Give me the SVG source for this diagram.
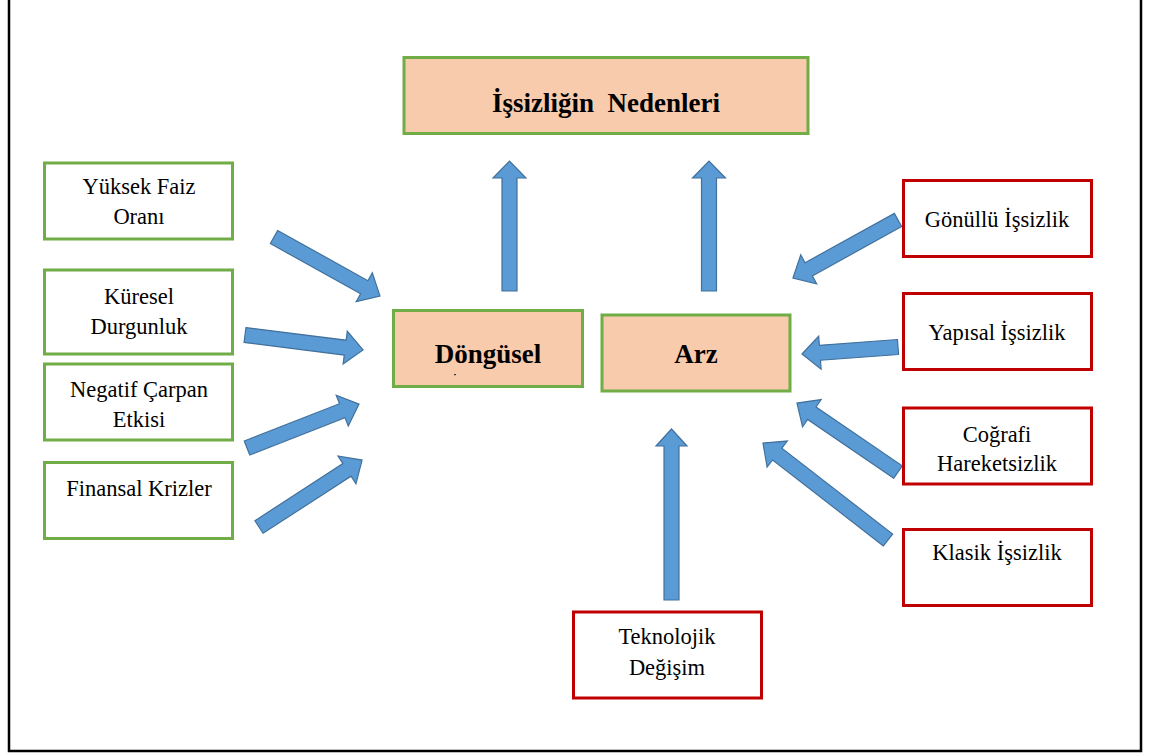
<svg xmlns="http://www.w3.org/2000/svg" width="1149" height="755" viewBox="0 0 1149 755">
<style>
.bg{fill:#ffffff}
.g{fill:#ffffff;stroke:#70AD47;stroke-width:3}
.gf{fill:#F8CBAD;stroke:#70AD47;stroke-width:3}
.r{fill:#ffffff;stroke:#C00000;stroke-width:3}
.t{font-size:22.5px;fill:#000;text-anchor:middle}
.b{font-size:27px;font-weight:bold;fill:#000;text-anchor:middle;white-space:pre}
.arr{fill:#5B9BD5;stroke:#41719C;stroke-width:1.2;stroke-linejoin:miter}
.frame{fill:none;stroke:#000;stroke-width:2.5}
</style>
<rect class="bg" x="0" y="0" width="1149" height="755"/>
<path class="frame" d="M9,0 L9,751 L1141,751 L1141,0"/>

<g id="connectors">
<path class="arr" transform="translate(274,237) rotate(29.1)" d="M0,-7.5 L103.3,-7.5 L103.3,-16.5 L121.3,0 L103.3,16.5 L103.3,7.5 L0,7.5 Z"/>
<path class="arr" transform="translate(245,335) rotate(7.2)" d="M0,-7.5 L101,-7.5 L101,-16.5 L119,0 L101,16.5 L101,7.5 L0,7.5 Z"/>
<path class="arr" transform="translate(247,448) rotate(-21.4)" d="M0,-7.5 L102.3,-7.5 L102.3,-16.5 L120.3,0 L102.3,16.5 L102.3,7.5 L0,7.5 Z"/>
<path class="arr" transform="translate(259,527) rotate(-33)" d="M0,-7.5 L104.9,-7.5 L104.9,-16.5 L122.9,0 L104.9,16.5 L104.9,7.5 L0,7.5 Z"/>
<path class="arr" transform="translate(898,220) rotate(151.1)" d="M0,-7.5 L102,-7.5 L102,-16.5 L120,0 L102,16.5 L102,7.5 L0,7.5 Z"/>
<path class="arr" transform="translate(898,347) rotate(175.8)" d="M0,-7.5 L78.3,-7.5 L78.3,-16.5 L96.3,0 L78.3,16.5 L78.3,7.5 L0,7.5 Z"/>
<path class="arr" transform="translate(898,472) rotate(-145.7)" d="M0,-7.5 L104.3,-7.5 L104.3,-16.5 L122.3,0 L104.3,16.5 L104.3,7.5 L0,7.5 Z"/>
<path class="arr" transform="translate(888,540) rotate(-142.2)" d="M0,-7.5 L140.2,-7.5 L140.2,-16.5 L158.2,0 L140.2,16.5 L140.2,7.5 L0,7.5 Z"/>
<path class="arr" transform="translate(509.5,291) rotate(-90)" d="M0,-7.5 L113,-7.5 L113,-16.5 L130,0 L113,16.5 L113,7.5 L0,7.5 Z"/>
<path class="arr" transform="translate(709,291) rotate(-90)" d="M0,-7.5 L113,-7.5 L113,-16.5 L130,0 L113,16.5 L113,7.5 L0,7.5 Z"/>
<path class="arr" transform="translate(671.5,600) rotate(-90)" d="M0,-7.5 L154,-7.5 L154,-15.5 L171,0 L154,15.5 L154,7.5 L0,7.5 Z"/>
</g>

<g font-family="Liberation Serif, Times New Roman, DejaVu Serif, serif">
<g id="title">
<rect class="gf" x="404" y="57.5" width="404" height="76"/>
<text class="b" x="606" y="112">İşsizliğin  Nedenleri</text>
</g>

<g id="dongusel">
<rect class="gf" x="393.5" y="310.5" width="189" height="76"/>
<text class="b" x="488" y="363">Döngüsel</text>
<rect x="454" y="374" width="2" height="1.2" fill="#333"/>
</g>

<g id="arz">
<rect class="gf" x="602" y="315" width="188" height="76"/>
<text class="b" x="696" y="363">Arz</text>
</g>

<g id="yuksek-faiz">
<rect class="g" x="44.5" y="163" width="188" height="76"/>
<text class="t" x="139" y="194">Yüksek Faiz</text>
<text class="t" x="139" y="224">Oranı</text>
</g>

<g id="kuresel-durgunluk">
<rect class="g" x="44.5" y="270" width="188" height="84"/>
<text class="t" x="139" y="304">Küresel</text>
<text class="t" x="139" y="334">Durgunluk</text>
</g>

<g id="negatif-carpan">
<rect class="g" x="44.5" y="364" width="188" height="76"/>
<text class="t" x="139" y="397">Negatif Çarpan</text>
<text class="t" x="139" y="427">Etkisi</text>
</g>

<g id="finansal-krizler">
<rect class="g" x="44.5" y="462.5" width="188" height="76"/>
<text class="t" x="139" y="496">Finansal Krizler</text>
</g>

<g id="gonullu">
<rect class="r" x="903.5" y="180.5" width="188" height="76"/>
<text class="t" x="997" y="227">Gönüllü İşsizlik</text>
</g>

<g id="yapisal">
<rect class="r" x="903.5" y="293.5" width="188" height="76"/>
<text class="t" x="997" y="340">Yapısal İşsizlik</text>
</g>

<g id="cografi">
<rect class="r" x="903.5" y="408" width="188" height="76"/>
<text class="t" x="997" y="442">Coğrafi</text>
<text class="t" x="997" y="471">Hareketsizlik</text>
</g>

<g id="klasik">
<rect class="r" x="903.5" y="529.5" width="188" height="76"/>
<text class="t" x="997" y="560">Klasik İşsizlik</text>
</g>

<g id="teknolojik">
<rect class="r" x="573.5" y="612" width="188" height="86"/>
<text class="t" x="667" y="644">Teknolojik</text>
<text class="t" x="667" y="675">Değişim</text>
</g>
</g>
</svg>
